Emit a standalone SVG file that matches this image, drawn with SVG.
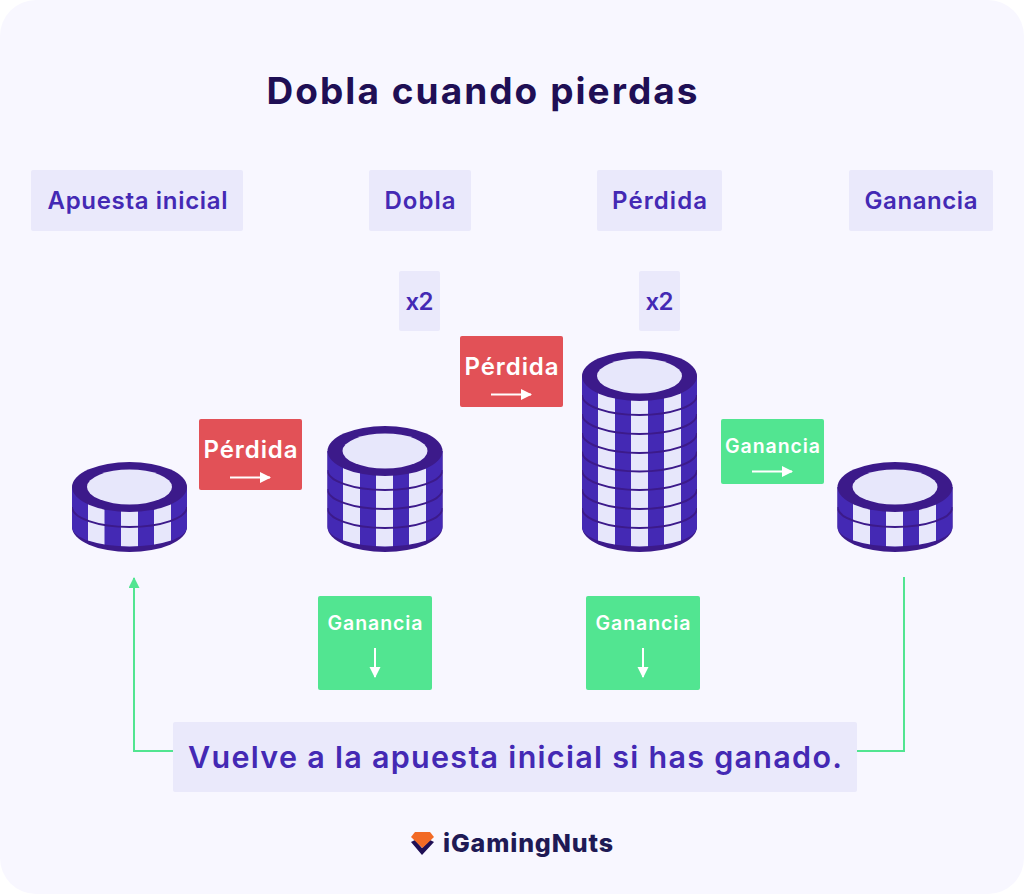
<svg xmlns="http://www.w3.org/2000/svg" width="1024" height="894" viewBox="0 0 1024 894">
<style>
text{font-family:"Inter","Lato","Liberation Sans",sans-serif;font-weight:600}
.lb{fill:#eae9fb}
.t{fill:#4429b4;font-size:24px;text-anchor:middle}
.w{fill:#fff;text-anchor:middle}
.red{fill:#e25157}
.grn{fill:#52e591}
.wl{stroke:#fff;stroke-width:2;fill:none}
.dk{fill:#3c1a8a}
.bd{fill:#4429b4}
.lt{fill:#e7e7fb}
.sep{stroke:#3c1a8a;stroke-width:2;fill:none}
.c{stroke:#52e591;stroke-width:2;fill:none}
</style>
<defs>
<marker id="wa" markerUnits="userSpaceOnUse" markerWidth="12" markerHeight="12" refX="10" refY="5.500" orient="auto"><path d="M0 0L11 5.500L0 11Z" fill="#fff"/></marker>
<marker id="ga" markerUnits="userSpaceOnUse" markerWidth="12" markerHeight="12" refX="10" refY="5.500" orient="auto"><path d="M0 0L11 5.500L0 11Z" fill="#52e591"/></marker>
<clipPath id="c1"><path d="M72 487V527A57.500 19.500 0 0 0 187 527V487Z"/></clipPath>
<clipPath id="c2"><path d="M327.500 451V527A57.500 19.500 0 0 0 442.500 527V451Z"/></clipPath>
<clipPath id="c3"><path d="M582 376V527A57.500 19.500 0 0 0 697 527V376Z"/></clipPath>
<clipPath id="c4"><path d="M837.500 487V527A57.500 19.500 0 0 0 952.500 527V487Z"/></clipPath>
</defs>
<rect width="1024" height="894" fill="#fff"/>
<rect width="1024" height="894" rx="36" fill="#f8f7ff"/>
<text x="482" y="104" font-size="37" fill="#1f0f55" text-anchor="middle" textLength="431" lengthAdjust="spacing" style="font-weight:700">Dobla cuando pierdas</text>

<g id="connectors">
<path class="c" d="M173 751H134V578" marker-end="url(#ga)"/>
<path class="c" d="M857 751H904V577"/>
</g>

<g id="label-apuesta"><rect class="lb" x="31" y="170" width="212" height="61" rx="2"/><text class="t" x="137.500" y="209" textLength="180" lengthAdjust="spacing">Apuesta inicial</text></g>
<g id="label-dobla"><rect class="lb" x="369" y="170" width="102" height="61" rx="2"/><text class="t" x="420" y="209" textLength="71" lengthAdjust="spacing">Dobla</text></g>
<g id="label-perdida"><rect class="lb" x="597" y="170" width="125" height="61" rx="2"/><text class="t" x="659.500" y="209" textLength="95" lengthAdjust="spacing">Pérdida</text></g>
<g id="label-ganancia"><rect class="lb" x="849" y="170" width="144" height="61" rx="2"/><text class="t" x="921" y="209" textLength="113" lengthAdjust="spacing">Ganancia</text></g>
<g id="x2-a"><rect class="lb" x="399" y="271" width="41" height="60" rx="2"/><text class="t" x="419.500" y="310" textLength="28" lengthAdjust="spacing">x2</text></g>
<g id="x2-b"><rect class="lb" x="639" y="271" width="41" height="60" rx="2"/><text class="t" x="659.500" y="310" textLength="28" lengthAdjust="spacing">x2</text></g>

<g id="perdida-1"><rect class="red" x="199" y="419" width="103" height="71" rx="2"/><text class="w" x="250.500" y="458" font-size="24" textLength="94" lengthAdjust="spacing">Pérdida</text><path class="wl" d="M230 477.500H270" marker-end="url(#wa)"/></g>
<g id="perdida-2"><rect class="red" x="460" y="336" width="103" height="71" rx="2"/><text class="w" x="511.500" y="375" font-size="24" textLength="94" lengthAdjust="spacing">Pérdida</text><path class="wl" d="M491 394.500H531" marker-end="url(#wa)"/></g>
<g id="ganancia-1"><rect class="grn" x="721" y="419" width="103" height="65" rx="2"/><text class="w" x="772.500" y="453" font-size="19.500" textLength="95" lengthAdjust="spacing">Ganancia</text><path class="wl" d="M752 471.500H792" marker-end="url(#wa)"/></g>
<g id="ganancia-2"><rect class="grn" x="318" y="596" width="114" height="94" rx="2"/><text class="w" x="375" y="630" font-size="19.500" textLength="95" lengthAdjust="spacing">Ganancia</text><path class="wl" d="M375 648V677" marker-end="url(#wa)"/></g>
<g id="ganancia-3"><rect class="grn" x="586" y="596" width="114" height="94" rx="2"/><text class="w" x="643" y="630" font-size="19.500" textLength="95" lengthAdjust="spacing">Ganancia</text><path class="wl" d="M643 648V677" marker-end="url(#wa)"/></g>

<g id="chip-1">
<path class="dk" d="M72 487V527A57.500 25 0 0 0 187 527V487Z"/>
<path class="bd" d="M72 487V527A57.500 19.500 0 0 0 187 527V487Z"/>
<g clip-path="url(#c1)"><g class="lt"><rect x="88" y="487" width="16.500" height="70"/><rect x="121" y="487" width="17" height="70"/><rect x="154" y="487" width="17" height="70"/></g>
<path class="sep" d="M72 507A57.500 20 0 0 0 187 507"/></g>
<ellipse class="dk" cx="129.500" cy="487" rx="57.500" ry="25"/>
<ellipse class="lt" cx="129.500" cy="487" rx="42.500" ry="17.500"/>
</g>
<g id="chip-2">
<path class="dk" d="M327.500 451V527A57.500 25 0 0 0 442.500 527V451Z"/>
<path class="bd" d="M327.500 451V527A57.500 19.500 0 0 0 442.500 527V451Z"/>
<g clip-path="url(#c2)"><g class="lt"><rect x="343" y="451" width="17" height="106"/><rect x="376" y="451" width="17" height="106"/><rect x="409" y="451" width="17" height="106"/></g>
<path class="sep" d="M327.500 470A57.500 20 0 0 0 442.500 470M327.500 489A57.500 20 0 0 0 442.500 489M327.500 508A57.500 20 0 0 0 442.500 508"/></g>
<ellipse class="dk" cx="385" cy="451" rx="57.500" ry="25"/>
<ellipse class="lt" cx="385" cy="451" rx="42.500" ry="17.500"/>
</g>
<g id="chip-3">
<path class="dk" d="M582 376V527A57.500 25 0 0 0 697 527V376Z"/>
<path class="bd" d="M582 376V527A57.500 19.500 0 0 0 697 527V376Z"/>
<g clip-path="url(#c3)"><g class="lt"><rect x="598" y="376" width="17" height="181"/><rect x="631" y="376" width="17" height="181"/><rect x="664" y="376" width="17" height="181"/></g>
<path class="sep" d="M582 395A57.500 20 0 0 0 697 395M582 414A57.500 20 0 0 0 697 414M582 433A57.500 20 0 0 0 697 433M582 451.500A57.500 20 0 0 0 697 451.500M582 470A57.500 20 0 0 0 697 470M582 489A57.500 20 0 0 0 697 489M582 508A57.500 20 0 0 0 697 508"/></g>
<ellipse class="dk" cx="639.500" cy="376" rx="57.500" ry="25"/>
<ellipse class="lt" cx="639.500" cy="376" rx="42.500" ry="17.500"/>
</g>
<g id="chip-4">
<path class="dk" d="M837.500 487V527A57.500 25 0 0 0 952.500 527V487Z"/>
<path class="bd" d="M837.500 487V527A57.500 19.500 0 0 0 952.500 527V487Z"/>
<g clip-path="url(#c4)"><g class="lt"><rect x="853" y="487" width="17" height="70"/><rect x="886" y="487" width="17" height="70"/><rect x="919" y="487" width="17" height="70"/></g>
<path class="sep" d="M837.500 507A57.500 20 0 0 0 952.500 507"/></g>
<ellipse class="dk" cx="895" cy="487" rx="57.500" ry="25"/>
<ellipse class="lt" cx="895" cy="487" rx="42.500" ry="17.500"/>
</g>

<g id="banner"><rect class="lb" x="173" y="722" width="684" height="70" rx="2"/><text x="515" y="768" font-size="30.500" fill="#4429b4" text-anchor="middle" textLength="654" lengthAdjust="spacing">Vuelve a la apuesta inicial si has ganado.</text></g>

<g id="logo">
<path d="M411 842L422 855L434 842L430 840L422 848L415 840Z" fill="#1f0f55"/>
<path d="M415 832H430L434 837L422.500 848L411 837Z" fill="#f26a25"/>
<text x="443" y="852" font-size="25" fill="#1f1a55" textLength="170" lengthAdjust="spacing" style="font-weight:800">iGamingNuts</text>
</g>
</svg>
